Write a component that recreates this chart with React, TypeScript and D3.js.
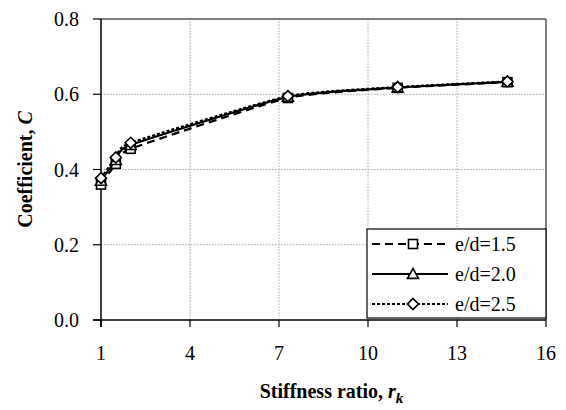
import React from 'react';
import * as d3 from 'd3';

const stiffness = [1, 1.5, 2, 7.3, 11, 14.7];
const ed15 = [0.36, 0.415, 0.455, 0.59, 0.617, 0.632];
const ed20 = [0.37, 0.425, 0.465, 0.593, 0.618, 0.633];
const ed25 = [0.377, 0.432, 0.471, 0.595, 0.619, 0.634];
const xTicks = [1, 4, 7, 10, 13, 16];
const yTicks = [0, 0.2, 0.4, 0.6, 0.8];

const series = [
  { name: 'e/d=1.5', values: ed15, dash: '8,5', marker: 'square' },
  { name: 'e/d=2.0', values: ed20, dash: '', marker: 'triangle' },
  { name: 'e/d=2.5', values: ed25, dash: '3,2', marker: 'diamond' },
];

const W = 566;
const H = 410;
const margin = { top: 19, right: 20, bottom: 90, left: 101 };
const FONT = "'Times New Roman', 'Liberation Serif', 'DejaVu Serif', Times, serif";

function Marker({ type, cx, cy }: { type: string; cx: number; cy: number }) {
  const common = { fill: 'white', stroke: 'black', strokeWidth: 1.6 };
  if (type === 'square') {
    return <rect x={cx - 4.5} y={cy - 4.5} width={9} height={9} {...common} />;
  }
  if (type === 'triangle') {
    const s = 5.5;
    return <path d={`M${cx},${cy - s}L${cx + s},${cy + s * 0.8}L${cx - s},${cy + s * 0.8}Z`} {...common} />;
  }
  const s = 5.5;
  return <path d={`M${cx},${cy - s}L${cx + s},${cy}L${cx},${cy + s}L${cx - s},${cy}Z`} {...common} />;
}

export default function App() {
  const x = d3.scaleLinear().domain([1, 16]).range([margin.left, W - margin.right]);
  const y = d3.scaleLinear().domain([0, 0.8]).range([H - margin.bottom, margin.top]);
  const line = d3
    .line<number>()
    .x((_, i) => x(stiffness[i]))
    .y((d) => y(d))
    .curve(d3.curveCardinal.tension(0.5));

  const x0 = margin.left;
  const x1 = W - margin.right;
  const y0 = H - margin.bottom;
  const y1 = margin.top;

  const lg = { x: 367, y: 229, w: x1 - 367, h: 89 };
  const txt = { fontFamily: FONT };

  return (
    <svg width={W} height={H} style={{ position: 'absolute', left: 0, top: 0, fontFamily: FONT }}>
      <rect width={W} height={H} fill="white" />
      {/* grid */}
      {xTicks.slice(1, -1).map((t) => (
        <line key={'gx' + t} x1={x(t)} x2={x(t)} y1={y0} y2={y1} stroke="#a6a6a6" strokeDasharray="1.5,1.5" />
      ))}
      {yTicks.slice(1, -1).map((t) => (
        <line key={'gy' + t} x1={x0} x2={x1} y1={y(t)} y2={y(t)} stroke="#a6a6a6" strokeDasharray="1.5,1.5" />
      ))}
      {/* frame */}
      <line x1={x0} x2={x1} y1={y1} y2={y1} stroke="#555" strokeWidth={1.5} />
      <line x1={x1} x2={x1} y1={y1} y2={y0} stroke="#555" strokeWidth={1.5} />
      <line x1={x0} x2={x0} y1={y1} y2={y0 + 7} stroke="black" strokeWidth={1.5} />
      <line x1={x0 - 8} x2={x1} y1={y0} y2={y0} stroke="black" strokeWidth={1.5} />
      {/* ticks */}
      {yTicks.map((t) => (
        <g key={'ty' + t}>
          <line x1={x0 - 8} x2={x0} y1={y(t)} y2={y(t)} stroke="black" strokeWidth={1.2} />
          <text x={x0 - 22} y={y(t)} dy="0.35em" textAnchor="end" fontSize={20} style={txt}>
            {d3.format('.1f')(t)}
          </text>
        </g>
      ))}
      {xTicks.map((t) => (
        <g key={'tx' + t}>
          <line x1={x(t)} x2={x(t)} y1={y0} y2={y0 + 7} stroke="black" strokeWidth={1.2} />
          <text x={x(t)} y={y0 + 40} textAnchor="middle" fontSize={20} style={txt}>
            {t}
          </text>
        </g>
      ))}
      {/* series */}
      {series.map((s) => (
        <g key={s.name}>
          <path d={line(s.values) || ''} fill="none" stroke="black" strokeWidth={2.2} strokeDasharray={s.dash} />
          {s.values.map((v, i) => (
            <Marker key={i} type={s.marker} cx={x(stiffness[i])} cy={y(v)} />
          ))}
        </g>
      ))}
      {/* legend */}
      <rect x={lg.x} y={lg.y} width={lg.w} height={lg.h} fill="white" stroke="black" strokeWidth={1.2} />
      {series.map((s, i) => {
        const cy = lg.y + 15 + i * 30;
        return (
          <g key={'lg' + s.name}>
            <line x1={lg.x + 5} x2={lg.x + 81} y1={cy} y2={cy} stroke="black" strokeWidth={2} strokeDasharray={s.dash} />
            <Marker type={s.marker} cx={lg.x + 46} cy={cy} />
            <text x={lg.x + 88} y={cy} dy="0.35em" fontSize={20} style={txt}>
              {s.name}
            </text>
          </g>
        );
      })}
      {/* axis titles */}
      <text x={(x0 + x1) / 2 + 8} y={398} textAnchor="middle" fontSize={20} fontWeight="bold" style={txt}>
        Stiffness ratio, <tspan fontStyle="italic">r</tspan>
        <tspan fontStyle="italic" fontSize={15} dy={5}>k</tspan>
      </text>
      <text
        transform={`translate(32, ${(y0 + y1) / 2}) rotate(-90)`}
        textAnchor="middle"
        fontSize={20}
        fontWeight="bold"
        style={txt}
      >
        Coefficient, <tspan fontStyle="italic">C</tspan>
      </text>
    </svg>
  );
}
